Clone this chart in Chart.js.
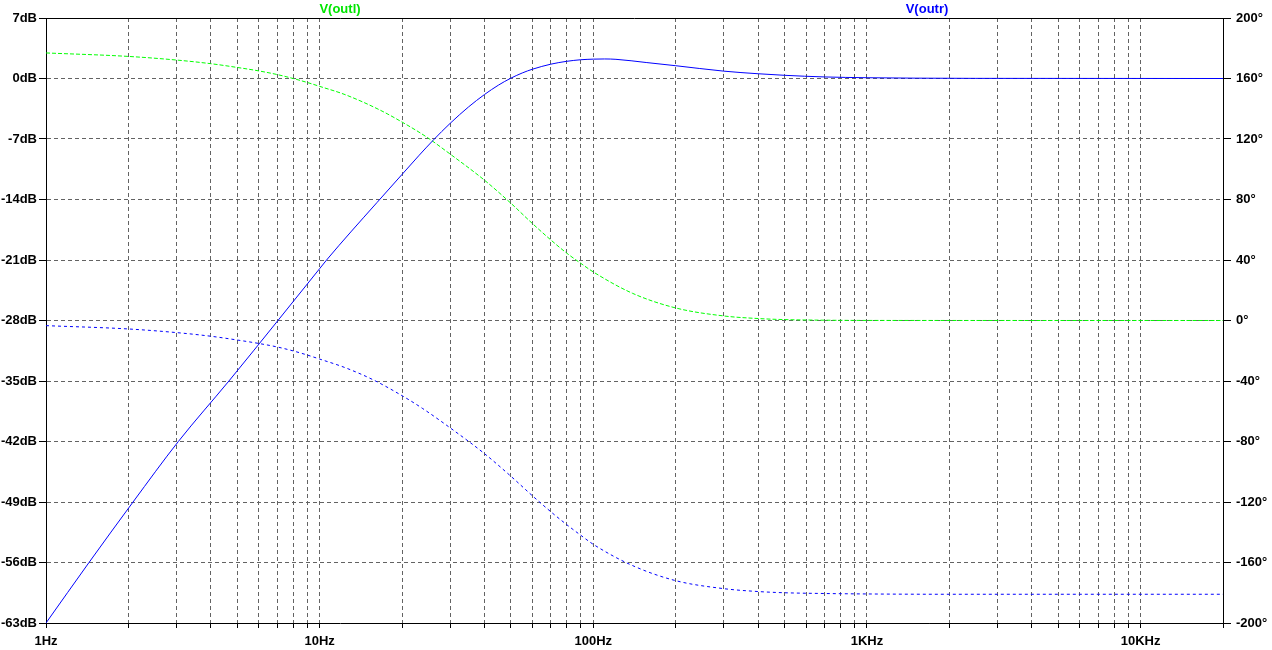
<!DOCTYPE html>
<html>
<head>
<meta charset="utf-8">
<script src="https://cdn.jsdelivr.net/npm/chart.js@4/dist/chart.umd.min.js"></script>
<style>
  html, body { margin: 0; padding: 0; background: #ffffff; }
  #wrap { width: 1272px; height: 650px; }
</style>
</head>
<body>
<div id="wrap"><canvas id="c" width="1272" height="650"></canvas></div>
<script>
// ---- data ----
const seriesNames = ['V(outl)', 'V(outr)'];

// V(outr) magnitude (dB, left axis) - blue solid
const magFreq = [1, 1.436, 2.08, 3.045, 4.66, 7.04, 10, 10.6, 13, 16.2, 20, 23, 26, 30, 35, 40, 45, 49.7, 55, 60, 70, 80, 90, 100, 110, 121, 156, 200, 300, 400, 500, 700, 1000, 1500, 2500, 20000];
const magDb   = [-63, -56, -49, -42, -35, -28, -22.0, -21, -17.75, -14.35, -11.1, -8.95, -7.14, -5.18, -3.29, -1.86, -0.77, 0, 0.64, 1.08, 1.66, 1.99, 2.17, 2.24, 2.26, 2.22, 1.85, 1.48, 0.85, 0.55, 0.37, 0.18, 0.09, 0.04, 0.015, 0];

// V(outl) phase (degrees, right axis) - green dotted
const phaseLFreq = [1, 2, 3, 4, 5, 6, 7, 8, 9, 10, 12.4, 16.5, 20, 24.5, 30, 40, 50, 60, 70, 80, 90, 100, 139, 200, 300, 400, 500, 700, 1000, 20000];
const phaseL     = [176.9, 174.6, 172.2, 169.8, 167.3, 165.0, 162.6, 160.0, 157.4, 154.8, 149.3, 139.4, 131.2, 121.5, 110.0, 92.8, 77.5, 64.0, 53.2, 44.5, 37.8, 32.1, 18.0, 8.3, 3.0, 1.3, 0.6, 0.2, 0.05, 0];

// V(outr) phase (degrees, right axis) - blue dotted
const phaseRFreq = [1, 2, 3, 4, 5, 6, 7, 8, 9, 10, 12.4, 15.6, 20, 23.7, 30, 40, 50, 60, 70, 80, 90, 100, 139, 200, 300, 400, 500, 700, 1000, 2000, 20000];
const phaseR     = [-3.4, -5.6, -8.0, -10.4, -12.9, -15.2, -17.5, -20.1, -22.8, -25.5, -31.2, -39.0, -49.7, -58.0, -71.0, -88.0, -103.0, -116.0, -126.5, -135.0, -142.0, -148.0, -162.0, -172.0, -177.3, -179.2, -180.0, -180.5, -180.8, -181, -181];

// axis ticks
const decadeValues = [1, 10, 100, 1000, 10000];
const decadeLabels = ['1Hz', '10Hz', '100Hz', '1KHz', '10KHz'];
const xMin = 1, xMax = 20000;
const dbMin = -63, dbMax = 7, dbStep = 7;
const degMin = -200, degMax = 200, degStep = 40;

// ---- chart ----
const pts = (xs, ys) => xs.map((x, i) => ({ x: x, y: ys[i] }));
const GREEN = '#00ff00', BLUE = '#0000ff', GRID = '#636363';
const tickFont = { family: '"Liberation Sans", Arial, sans-serif', size: 13, weight: 'bold' };

const topLabels = {
  id: 'topLabels',
  afterDraw(chart) {
    const ctx = chart.ctx, a = chart.chartArea;
    ctx.save();
    ctx.strokeStyle = '#000';
    ctx.lineWidth = 1;
    ctx.beginPath();
    ctx.moveTo(a.left, Math.round(a.top) + 0.5);
    ctx.lineTo(a.right, Math.round(a.top) + 0.5);
    ctx.stroke();
    ctx.font = 'bold 13px "Liberation Sans", Arial, sans-serif';
    ctx.textAlign = 'center';
    ctx.textBaseline = 'middle';
    ctx.fillStyle = '#00e600';
    ctx.fillText(seriesNames[0], 340, 9);
    ctx.fillStyle = BLUE;
    ctx.fillText(seriesNames[1], 927, 9);
    ctx.restore();
  }
};

new Chart(document.getElementById('c'), {
  type: 'line',
  data: {
    datasets: [
      { label: seriesNames[1] + ' mag', data: pts(magFreq, magDb), yAxisID: 'yDb',
        borderColor: BLUE, borderWidth: 1, pointRadius: 0, fill: false, cubicInterpolationMode: 'monotone' },
      { label: seriesNames[1] + ' phase', data: pts(phaseRFreq, phaseR), yAxisID: 'yDeg',
        borderColor: BLUE, borderWidth: 1, borderDash: [3, 3], pointRadius: 0, fill: false, cubicInterpolationMode: 'monotone' },
      { label: seriesNames[0] + ' phase', data: pts(phaseLFreq, phaseL), yAxisID: 'yDeg',
        borderColor: GREEN, borderWidth: 1, borderDash: [4, 2], pointRadius: 0, fill: false, cubicInterpolationMode: 'monotone' }
    ]
  },
  options: {
    responsive: false,
    animation: false,
    events: [],
    layout: { padding: { top: 18, left: 0, right: 0, bottom: 0 } },
    plugins: { legend: { display: false }, tooltip: { enabled: false } },
    scales: {
      x: {
        type: 'logarithmic', min: xMin, max: xMax,
        afterBuildTicks(scale) {
          const t = [];
          for (let e = 0; e <= 4; e++) {
            for (let m = 1; m <= 9; m++) {
              const v = m * Math.pow(10, e);
              if (v >= xMin && v <= xMax) t.push({ value: v, major: m === 1 });
            }
          }
          scale.ticks = t;
        },
        afterFit(scale) { scale.height = 27; },
        grid: { color: GRID, lineWidth: 1, tickColor: '#000', tickLength: 5, tickBorderDash: [] },
        border: { display: true, color: '#000', width: 1, dash: [4, 3] },
        ticks: {
          autoSkip: false, maxRotation: 0, minRotation: 0, padding: 6,
          color: '#000', font: tickFont,
          callback(v) { const i = decadeValues.indexOf(v); return i >= 0 ? decadeLabels[i] : ''; }
        }
      },
      yDb: {
        type: 'linear', position: 'left', min: dbMin, max: dbMax,
        afterFit(scale) { scale.width = 46; },
        grid: { color: GRID, lineWidth: 1, tickColor: '#000', tickLength: 7, tickBorderDash: [] },
        border: { display: true, color: '#000', width: 1, dash: [4, 3] },
        ticks: { stepSize: dbStep, padding: 2, color: '#000', font: tickFont, callback: v => v + 'dB' }
      },
      yDeg: {
        type: 'linear', position: 'right', min: degMin, max: degMax,
        afterFit(scale) { scale.width = 49; },
        grid: { drawOnChartArea: false, drawTicks: true, color: '#000', tickColor: '#000', tickLength: 8, tickBorderDash: [] },
        border: { display: true, color: '#000', width: 1 },
        ticks: { stepSize: degStep, padding: 5, color: '#000', font: tickFont, callback: v => v + '°' }
      }
    }
  },
  plugins: [topLabels]
});
</script>
</body>
</html>
